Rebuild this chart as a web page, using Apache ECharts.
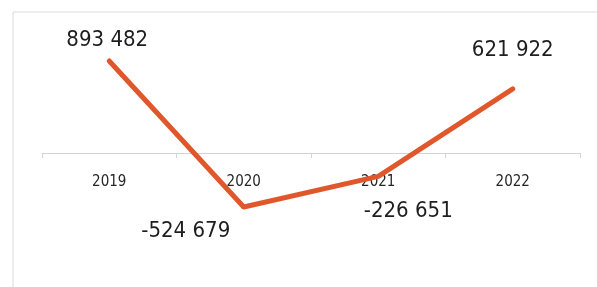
<!DOCTYPE html>
<html>
<head>
<meta charset="utf-8">
<script src="https://cdn.jsdelivr.net/npm/echarts@6/dist/echarts.min.js"></script>
<style>
html,body{margin:0;padding:0;background:#fff;}
#chart{width:597px;height:287px;}
</style>
</head>
<body>
<div id="chart"></div>
<script>
var categories = ['2019', '2020', '2021', '2022'];
var values = [893482, -524679, -226651, 621922];
var labelOffsets = [[-2, 2], [-58, 1], [30, 12], [0, -16]];
var labelPositions = ['top', 'bottom', 'bottom', 'top'];

function fmt(v) {
  var s = String(Math.abs(v)).replace(/\B(?=(\d{3})+(?!\d))/g, ' ');
  return (v < 0 ? '-' : '') + s;
}

var FONT = '"Liberation Sans Narrow", "DejaVu Sans Condensed", "Noto Sans", sans-serif';

var chart = echarts.init(document.getElementById('chart'), null, {renderer: 'canvas'});
chart.setOption({
  animation: false,
  backgroundColor: '#ffffff',
  graphic: [{
    type: 'rect',
    silent: true,
    z: -10,
    shape: {x: 13, y: 12, width: 600, height: 300},
    style: {fill: 'none', stroke: '#dcdcdc', lineWidth: 1}
  }],
  grid: [
    {left: 42, right: 17, top: 50, bottom: 31},
    {left: 42, right: 17, top: 50, bottom: 134}
  ],
  xAxis: [{
    gridIndex: 0,
    type: 'category',
    data: categories,
    boundaryGap: true,
    show: false
  }, {
    gridIndex: 1,
    type: 'category',
    data: categories,
    boundaryGap: true,
    position: 'bottom',
    axisLine: {show: true, onZero: false, lineStyle: {color: '#d4d4d4', width: 1}},
    axisTick: {show: true, interval: 0, length: 5, inside: false, lineStyle: {color: '#d4d4d4'}},
    axisLabel: {
      interval: 0,
      margin: 22,
      color: '#262626',
      fontSize: 15,
      fontFamily: FONT
    },
    splitLine: {show: false}
  }],
  yAxis: [{
    gridIndex: 0,
    type: 'value',
    min: -1000000,
    max: 1000000,
    show: false
  }, {
    gridIndex: 1,
    type: 'value',
    min: 0,
    max: 1000000,
    show: false
  }],
  series: [{
    type: 'line',
    xAxisIndex: 0,
    yAxisIndex: 0,
    z: 5,
    data: values.map(function (v, i) {
      return {
        value: v,
        label: {position: labelPositions[i], offset: labelOffsets[i]}
      };
    }),
    showSymbol: true,
    symbol: 'circle',
    symbolSize: 0,
    itemStyle: {color: 'rgba(0,0,0,0)', borderWidth: 0},
    lineStyle: {color: '#E0572C', width: 5, cap: 'round', join: 'round'},
    label: {
      show: true,
      distance: 12,
      formatter: function (p) { return fmt(p.value); },
      color: '#1e1e1e',
      fontSize: 22,
      fontFamily: FONT
    }
  }]
});
</script>
</body>
</html>
